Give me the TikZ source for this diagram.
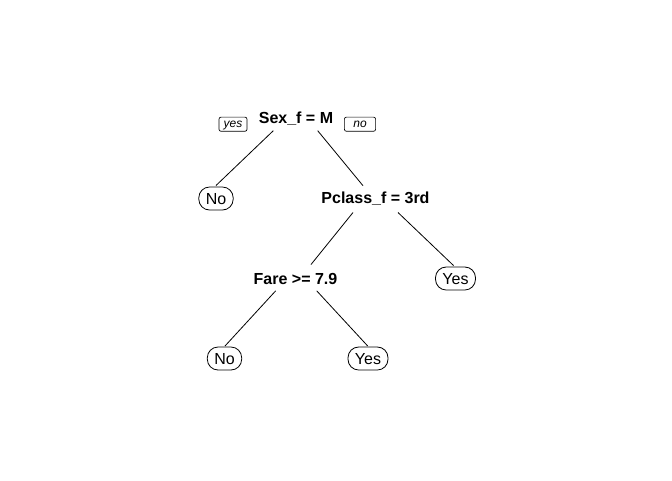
\documentclass[tikz,border=0pt]{standalone}
\usepackage{fontspec}
\setmainfont{Liberation Sans}
\usetikzlibrary{calc}
\begin{document}
\begin{tikzpicture}[x=0.75pt,y=-0.75pt,
  split/.style={font=\bfseries\fontsize{12}{14}\selectfont, inner sep=0pt, text height=8.6pt, text depth=0pt},
  leaf/.style={draw, line width=0.6pt, rounded corners=8pt, font=\fontsize{12}{14}\selectfont,
    text height=8.6pt, text depth=0pt, minimum height=17.25pt, inner xsep=5.2pt, inner ysep=0pt},
  dirlbl/.style={draw, line width=0.5pt, rounded corners=1.5pt, font=\itshape\fontsize{9}{10}\selectfont,
    text height=6.4pt, text depth=1.8pt, minimum height=10.6pt, inner xsep=0pt, inner ysep=0pt},
  branch/.style={line width=0.6pt}]
\fill[white] (0,0) rectangle (672,480);
\useasboundingbox (0,0) rectangle (672,480);

% split labels
\node[split] (sex) at (296,117.3) {Sex\_f = M};
\node[split] (pclass) at (375.5,197.7) {Pclass\_f = 3rd};
\node[split] (fare) at (295.5,278.8) {Fare >= 7.9};

% direction labels
\node[dirlbl, minimum width=21pt] (yes) at (233,124.2) {yes};
\node[dirlbl, minimum width=23.4pt] (no) at (360,124.2) {no};

% leaves
\node[leaf] (no1) at (216,198.5) {No};
\node[leaf] (yes1) at (455.5,278.5) {Yes};
\node[leaf] (no2) at (224.5,358.5) {No};
\node[leaf] (yes2) at (368,358.5) {Yes};

% branches
\draw[branch] ($(sex)+(-22.7,13.4)$) -- ($(no1)+(0,-13)$);
\draw[branch] ($(sex)+(21.7,13.4)$) -- ($(pclass)+(-12.5,-12)$);
\draw[branch] ($(pclass)+(-22.5,14.8)$) -- ($(fare)+(15.5,-14.3)$);
\draw[branch] ($(pclass)+(22.5,14.8)$) -- ($(yes1)+(-2,-13)$);
\draw[branch] ($(fare)+(-19.8,12)$) -- ($(no2)+(0.5,-12.5)$);
\draw[branch] ($(fare)+(21.2,12)$) -- ($(yes2)+(-0.3,-12.5)$);
\end{tikzpicture}
\end{document}
